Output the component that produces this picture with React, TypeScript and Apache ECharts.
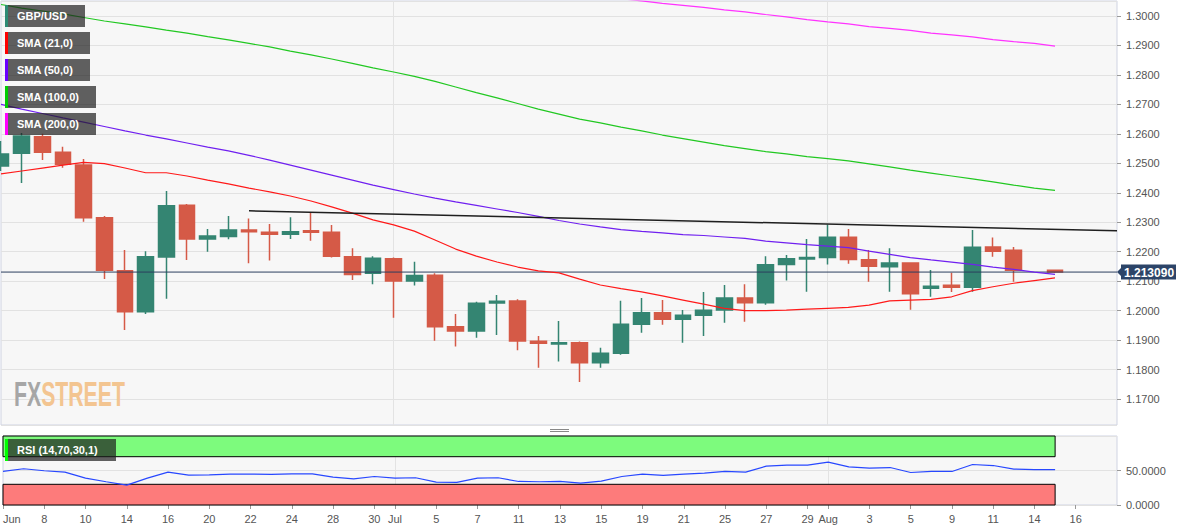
import React, { useEffect, useRef } from 'react';
import * as echarts from 'echarts';

const dates = [
  'Jun 6', 'Jun 7', 'Jun 8', 'Jun 9', 'Jun 10', 'Jun 13', 'Jun 14', 'Jun 15', 'Jun 16', 'Jun 17',
  'Jun 20', 'Jun 21', 'Jun 22', 'Jun 23', 'Jun 24', 'Jun 27', 'Jun 28', 'Jun 29', 'Jun 30',
  'Jul 1', 'Jul 4', 'Jul 5', 'Jul 6', 'Jul 7', 'Jul 8', 'Jul 11', 'Jul 12', 'Jul 13', 'Jul 14', 'Jul 15',
  'Jul 18', 'Jul 19', 'Jul 20', 'Jul 21', 'Jul 22', 'Jul 25', 'Jul 26', 'Jul 27', 'Jul 28', 'Jul 29',
  'Aug 1', 'Aug 2', 'Aug 3', 'Aug 4', 'Aug 5', 'Aug 8', 'Aug 9', 'Aug 10', 'Aug 11', 'Aug 12',
  'Aug 14', 'Aug 15', 'Aug 16', 'Aug 17', 'Aug 18',
];

const tickIdx = [0, 2, 4, 6, 8, 10, 12, 14, 16, 18, 19, 21, 23, 25, 27, 29, 31, 33, 35, 37, 39, 40, 42, 44, 46, 48, 50, 52];
const tickText = ['Jun', '8', '10', '14', '16', '20', '22', '24', '28', '30', 'Jul', '5', '7', '11', '13', '15', '19', '21', '25', '27', '29', 'Aug', '3', '5', '9', '11', '14', '16'];
const monthIdx = [19, 40];

const opens = [1.2491, 1.2534, 1.2590, 1.2538, 1.2494, 1.2315, 1.2135, 1.1996, 1.2182, 1.2358,
  1.2243, 1.2252, 1.2274, 1.2266, 1.2259, 1.2271, 1.2266, 1.2183, 1.2127, 1.2176,
  1.2101, 1.2120, 1.1945, 1.1931, 1.2026, 1.2033, 1.1896, 1.1887, 1.1891, 1.1823,
  1.1855, 1.1954, 1.1993, 1.1971, 1.1984, 1.2002, 1.2043, 1.2027, 1.2157, 1.2175,
  1.2180, 1.2249, 1.2173, 1.2149, 1.2162, 1.2076, 1.2086, 1.2079, 1.2216, 1.2205,
  null, 1.2137, null, null, null];
const highs = [1.2576, 1.2603, 1.2600, 1.2556, 1.2515, 1.2321, 1.2206, 1.2202, 1.2406, 1.2362,
  1.2277, 1.2321, 1.2313, 1.2294, 1.2317, 1.2334, 1.2291, 1.2212, 1.2185, 1.2180,
  1.2166, 1.2127, 1.1989, 1.2030, 1.2053, 1.2039, 1.1914, 1.1965, 1.1895, 1.1874,
  1.2034, 1.2043, 1.2036, 1.2002, 1.2063, 1.2087, 1.2090, 1.2185, 1.2189, 1.2243,
  1.2292, 1.2277, 1.2206, 1.2212, 1.2164, 1.2138, 1.2129, 1.2274, 1.2248, 1.2216,
  null, 1.2138, null, null, null];
const lows = [1.2474, 1.2433, 1.2511, 1.2485, 1.2302, 1.2107, 1.1934, 1.1989, 1.2040, 1.2172,
  1.2200, 1.2242, 1.2161, 1.2170, 1.2243, 1.2237, 1.2180, 1.2104, 1.2090, 1.1976,
  1.2085, 1.1898, 1.1878, 1.1908, 1.1917, 1.1866, 1.1806, 1.1827, 1.1758, 1.1806,
  1.1850, 1.1925, 1.1952, 1.1891, 1.1914, 1.1959, 1.1962, 1.2020, 1.2102, 1.2064,
  1.2157, 1.2159, 1.2098, 1.2064, 1.2003, 1.2047, 1.2063, 1.2064, 1.2183, 1.2098,
  null, 1.2128, null, null, null];
const closes = [1.2532, 1.2593, 1.2538, 1.2497, 1.2315, 1.2137, 1.1996, 1.2183, 1.2356, 1.2243,
  1.2253, 1.2274, 1.2268, 1.2259, 1.2268, 1.2266, 1.2185, 1.2123, 1.2178, 1.2101,
  1.2119, 1.1945, 1.1931, 1.2025, 1.2032, 1.1897, 1.1889, 1.1891, 1.1823, 1.1855,
  1.1954, 1.1993, 1.1971, 1.1984, 1.2001, 1.2043, 1.2027, 1.2156, 1.2176, 1.2180,
  1.2249, 1.2174, 1.2151, 1.2162, 1.2057, 1.2083, 1.2079, 1.2215, 1.2202, 1.2137,
  null, 1.21309, null, null, null];

const lastPrice = 1.21309;

const sma21 = [1.2464, 1.2474, 1.2484, 1.2494, 1.2503, 1.2499, 1.2484, 1.2468, 1.2468, 1.2457,
  1.2443, 1.2430, 1.2416, 1.2403, 1.2389, 1.2372, 1.2352, 1.2331, 1.2308, 1.2291,
  1.2270, 1.2240, 1.2209, 1.2185, 1.2165, 1.2148, 1.2135, 1.2128, 1.2107, 1.2087,
  1.2075, 1.2064, 1.2050, 1.2036, 1.2022, 1.2008, 1.2000, 1.2000, 1.2002, 1.2005,
  1.2008, 1.2011, 1.2019, 1.2033, 1.2036, 1.2038, 1.2047, 1.2068, 1.2081, 1.2093,
  1.2102, 1.2111, null, null, null];
const sma50 = [1.2700, 1.2684, 1.2669, 1.2654, 1.2640, 1.2625, 1.2610, 1.2596, 1.2583, 1.2569,
  1.2555, 1.2542, 1.2527, 1.2511, 1.2494, 1.2477, 1.2460, 1.2443, 1.2426, 1.2411,
  1.2396, 1.2382, 1.2369, 1.2357, 1.2345, 1.2333, 1.2320, 1.2306, 1.2294, 1.2284,
  1.2275, 1.2269, 1.2264, 1.2258, 1.2255, 1.2250, 1.2245, 1.2236, 1.2230, 1.2224,
  1.2219, 1.2214, 1.2202, 1.2191, 1.2180, 1.2172, 1.2165, 1.2157, 1.2148, 1.2140,
  1.2131, 1.2123, null, null, null];
const sma100 = [1.3039, 1.3027, 1.3017, 1.3007, 1.2995, 1.2983, 1.2973, 1.2963, 1.2952, 1.2942,
  1.2930, 1.2919, 1.2907, 1.2895, 1.2881, 1.2868, 1.2854, 1.2839, 1.2824, 1.2810,
  1.2795, 1.2778, 1.2759, 1.2740, 1.2722, 1.2703, 1.2684, 1.2667, 1.2650, 1.2637,
  1.2623, 1.2610, 1.2596, 1.2584, 1.2572, 1.2560, 1.2550, 1.2540, 1.2532, 1.2523,
  1.2516, 1.2508, 1.2498, 1.2488, 1.2477, 1.2467, 1.2457, 1.2447, 1.2437, 1.2426,
  1.2416, 1.2408, null, null, null];
const sma200 = [null, null, null, null, null, null, null, null, null, null,
  null, null, null, null, null, null, null, null, null, null,
  null, null, null, null, null, null, null, null, 1.3075, 1.3067,
  1.3059, 1.3051, 1.3043, 1.3036, 1.3029, 1.3021, 1.3014, 1.3005, 1.2997, 1.2988,
  1.2980, 1.2973, 1.2964, 1.2958, 1.2951, 1.2942, 1.2936, 1.2929, 1.2920, 1.2913,
  1.2907, 1.2898, null, null, null];

const trendIdx = [12, 54];
const trendVals = [1.2339, 1.2271];

const rsi = [48.6, 52.5, 49.6, 47.7, 39, 33.7, 28.9, 39, 47.7, 43.4,
  43.8, 44.8, 44.8, 44.5, 45.2, 45.2, 40.5, 38, 41.3, 39,
  39.5, 33.2, 32.7, 39, 39.5, 34.1, 33.7, 34.1, 31.8, 34.6,
  41.3, 44.8, 42.8, 44.8, 46.2, 48.6, 47.7, 56.4, 57.8, 57.8,
  62.1, 55.3, 53.5, 54.3, 47.1, 48.6, 48.6, 58.7, 57.2, 52,
  51.4, 51.4, null, null, null];
const rsiUpper = 70;
const rsiLower = 30;
const rsiEndIdx = 51;

const UP = '#348572';
const DOWN = '#d55a47';
const PRICE_BG = '#2c4468';
const FONT = '"Liberation Sans", Arial, sans-serif';

const legendItems = [
  { text: 'GBP/USD', color: '#2e8b74', y: 5, w: 80 },
  { text: 'SMA (21,0)', color: '#ff0000', y: 32, w: 85 },
  { text: 'SMA (50,0)', color: '#6a00ff', y: 59, w: 85 },
  { text: 'SMA (100,0)', color: '#00cc00', y: 86, w: 91 },
  { text: 'SMA (200,0)', color: '#ff00ff', y: 113, w: 91 },
  { text: 'RSI (14,70,30,1)', color: '#00ff00', y: 439, w: 111 },
];

export default function App() {
  const ref = useRef<HTMLDivElement>(null);
  useEffect(() => {
    const chart = echarts.init(ref.current as HTMLDivElement, null, { renderer: 'svg' });
    const showTick = (i: number) => tickIdx.indexOf(i) >= 0;
    const showMonth = (i: number) => monthIdx.indexOf(i) >= 0;
    const candleData = dates.map((_, i) =>
      opens[i] == null ? '-' : [opens[i], closes[i], lows[i], highs[i]]
    );
    const lineSeries = (name: string, data: any[], color: string, width = 1.2) => ({
      name,
      type: 'line',
      xAxisIndex: 0,
      yAxisIndex: 0,
      data,
      symbol: 'none',
      silent: true,
      lineStyle: { color, width },
      z: 3,
    });
    const option: any = {
      animation: false,
      backgroundColor: '#ffffff',
      textStyle: { fontFamily: FONT },
      grid: [
        { left: 1, right: 77, top: 1, height: 424, show: true, backgroundColor: '#f7f7f7', borderColor: '#cfd3e2', borderWidth: 1 },
        { left: 1, right: 77, top: 436, height: 69, show: true, backgroundColor: '#f7f7f7', borderColor: '#cfd3e2', borderWidth: 1 },
      ],
      xAxis: [
        {
          type: 'category', gridIndex: 0, data: dates, boundaryGap: false,
          axisLine: { show: false }, axisTick: { show: false }, axisLabel: { show: false },
          splitLine: { show: true, interval: (i: number) => showMonth(i), lineStyle: { color: '#e3e3e3' } },
        },
        {
          type: 'category', gridIndex: 1, data: dates, boundaryGap: false,
          axisLine: { show: false },
          axisTick: { show: true, interval: (i: number) => showTick(i), length: 4, lineStyle: { color: '#999' } },
          axisLabel: {
            interval: (i: number) => showTick(i),
            formatter: (_v: string, i: number) => {
              const k = tickIdx.indexOf(i);
              return k >= 0 ? tickText[k] : '';
            },
            color: '#555', fontSize: 11, margin: 8, alignMinLabel: 'left', fontFamily: FONT,
          },
          splitLine: { show: true, interval: (i: number) => showMonth(i), lineStyle: { color: '#e3e3e3' } },
        },
      ],
      yAxis: [
        {
          type: 'value', gridIndex: 0, position: 'right', min: 1.16119, max: 1.30509, splitNumber: 14,
          axisLine: { show: false },
          axisTick: { show: true, length: 4, lineStyle: { color: '#999' } },
          axisLabel: { formatter: (v: number) => v.toFixed(4), color: '#555', fontSize: 11, margin: 9, showMinLabel: false, showMaxLabel: false, fontFamily: FONT },
          splitLine: { show: true, lineStyle: { color: '#e2e2e2' } },
        },
        {
          type: 'value', gridIndex: 1, position: 'right', min: 0, max: 100, interval: 50,
          axisLine: { show: false },
          axisTick: { show: true, length: 4, lineStyle: { color: '#999' } },
          axisLabel: { formatter: (v: number) => v.toFixed(4), color: '#555', fontSize: 11, margin: 9, showMaxLabel: false, fontFamily: FONT },
          splitLine: { show: true, lineStyle: { color: '#e2e2e2' } },
        },
      ],
      series: [
        {
          name: 'GBP/USD', type: 'candlestick', xAxisIndex: 0, yAxisIndex: 0, data: candleData,
          barWidth: 16, silent: true, z: 2,
          itemStyle: { color: UP, color0: DOWN, borderColor: UP, borderColor0: DOWN, borderWidth: 1.5 },
        },
        lineSeries('Last price', [[dates[0], lastPrice], [dates[dates.length - 1], lastPrice]], '#2c3e5e', 1),
        lineSeries('SMA (21,0)', sma21, '#ff1a1a'),
        lineSeries('SMA (50,0)', sma50, '#7020f0'),
        lineSeries('SMA (100,0)', sma100, '#22c822'),
        lineSeries('SMA (200,0)', sma200, '#ff33ff'),
        lineSeries('Trend', trendIdx.map((ix, k) => [dates[ix], trendVals[k]]), '#1f1f1f', 1.5),
        {
          name: 'RSI', type: 'line', xAxisIndex: 1, yAxisIndex: 1, data: rsi, symbol: 'none', silent: true, z: 3,
          lineStyle: { color: '#2848ff', width: 1.2 },
          markArea: {
            silent: true,
            itemStyle: { borderColor: '#000', borderWidth: 1 },
            data: [
              [{ xAxis: dates[0], yAxis: rsiUpper, itemStyle: { color: '#7dfb7d', borderColor: '#000', borderWidth: 1 } }, { xAxis: dates[rsiEndIdx], yAxis: 100 }],
              [{ xAxis: dates[0], yAxis: 0, itemStyle: { color: '#fd7b7b', borderColor: '#000', borderWidth: 1 } }, { xAxis: dates[rsiEndIdx], yAxis: rsiLower }],
            ],
          },
        },
      ],
    };
    chart.setOption(option);

    const py = chart.convertToPixel({ yAxisIndex: 0 }, lastPrice) as number;
    const graphics: any[] = [];
    legendItems.forEach((it) => {
      graphics.push({ type: 'rect', z: 100, shape: { x: 5, y: it.y, width: it.w, height: 22 }, style: { fill: 'rgba(30,30,30,0.7)' } });
      graphics.push({ type: 'rect', z: 101, shape: { x: 5, y: it.y, width: 3, height: 22 }, style: { fill: it.color } });
      graphics.push({
        type: 'text', z: 102, x: 17, y: it.y + 11,
        style: { text: it.text, fill: '#fff', fontSize: 11, fontWeight: 'bold', fontFamily: FONT, verticalAlign: 'middle' },
      });
    });
    graphics.push({ type: 'line', z: 100, shape: { x1: 550, y1: 429.5, x2: 569, y2: 429.5 }, style: { stroke: '#888', lineWidth: 1 } });
    graphics.push({ type: 'line', z: 100, shape: { x1: 550, y1: 431.5, x2: 569, y2: 431.5 }, style: { stroke: '#888', lineWidth: 1 } });
    graphics.push({
      type: 'text', z: 1, x: 14, y: 375, scaleX: 0.59,
      style: {
        text: '{a|FX}{b|STREET}',
        rich: {
          a: { fill: '#a6a6a6', fontSize: 36, fontWeight: 'bold', fontFamily: FONT },
          b: { fill: '#f3c591', fontSize: 36, fontWeight: 'bold', fontFamily: FONT },
        },
      },
    });
    graphics.push({
      type: 'polygon', z: 110,
      shape: { points: [[1117, py], [1121.5, py - 4.5], [1121.5, py + 4.5]] },
      style: { fill: PRICE_BG },
    });
    graphics.push({
      type: 'rect', z: 110,
      shape: { x: 1121, y: py - 7.5, width: 55, height: 15 },
      style: { fill: PRICE_BG },
    });
    graphics.push({
      type: 'text', z: 111, x: 1124, y: py + 0.5,
      style: { text: lastPrice.toFixed(6), fill: '#fff', fontSize: 12, fontWeight: 'bold', fontFamily: FONT, verticalAlign: 'middle' },
    });
    chart.setOption({ graphic: graphics });

    return () => chart.dispose();
  }, []);
  return <div ref={ref} style={{ position: 'fixed', left: 0, top: 0, width: 1194, height: 532 }} />;
}
